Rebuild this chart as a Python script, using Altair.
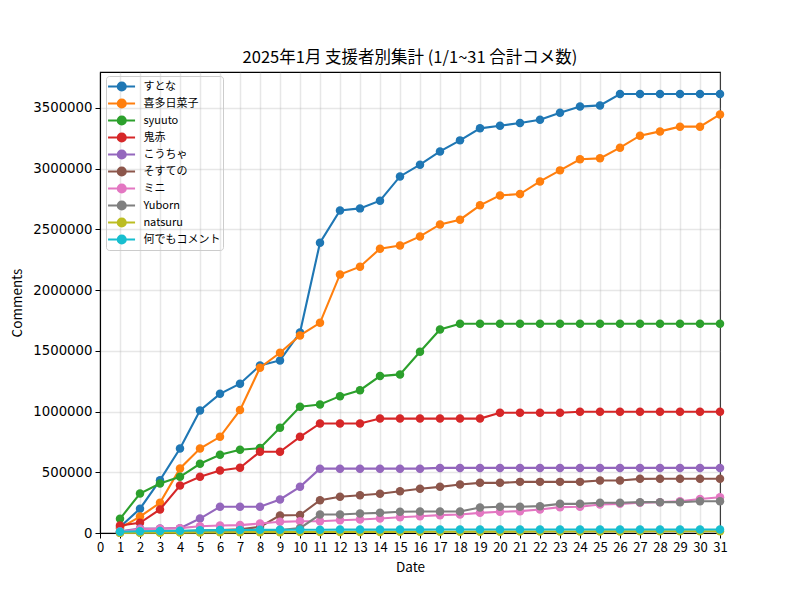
import altair as alt
import pandas as pd

days = list(range(1, 32))
names = ["すとな", "喜多日菜子", "syuuto", "鬼赤", "こうちゃ", "そすての", "ミニ", "Yuborn", "natsuru", "何でもコメント"]
colors = ["#1f77b4", "#ff7f0e", "#2ca02c", "#d62728", "#9467bd", "#8c564b", "#e377c2", "#7f7f7f", "#bcbd22", "#17becf"]

sutona = [50000, 200000, 435000, 696000, 1009000, 1146000, 1229000, 1380000, 1421000, 1651000,
          2390000, 2656000, 2673000, 2736000, 2936000, 3033000, 3142000, 3233000, 3332000, 3354000,
          3376000, 3403000, 3461000, 3511000, 3521000, 3615000, 3615000, 3615000, 3615000, 3615000, 3615000]
kita = [40000, 135000, 249000, 531000, 696000, 792000, 1012000, 1361000, 1484000, 1627000,
        1731000, 2129000, 2193000, 2341000, 2368000, 2442000, 2541000, 2580000, 2698000, 2780000,
        2791000, 2895000, 2986000, 3077000, 3085000, 3173000, 3272000, 3307000, 3346000, 3346000, 3447000]
syuuto = [117000, 325000, 408000, 463000, 570000, 644000, 685000, 699000, 866000, 1039000,
          1058000, 1127000, 1176000, 1292000, 1306000, 1492000, 1676000, 1723000, 1723000, 1723000,
          1723000, 1723000, 1723000, 1723000, 1723000, 1723000, 1723000, 1723000, 1723000, 1723000, 1723000]
oniaka = [62000, 84000, 194000, 391000, 463000, 515000, 537000, 669000, 669000, 792000,
          902000, 902000, 902000, 942000, 942000, 942000, 942000, 942000, 942000, 990000,
          990000, 990000, 990000, 998000, 998000, 998000, 998000, 998000, 998000, 998000, 998000]
koucha = [15000, 37000, 37000, 40000, 119000, 216000, 216000, 216000, 276000, 380000,
          530000, 530000, 530000, 530000, 530000, 530000, 536000, 536000, 536000, 536000,
          536000, 536000, 536000, 536000, 536000, 536000, 536000, 536000, 536000, 536000, 536000]
sosuteno = [5000, 10000, 12000, 15000, 20000, 25000, 30000, 50000, 145000, 148000,
            270000, 298000, 311000, 323000, 344000, 364000, 380000, 399000, 413000, 413000,
            421000, 421000, 421000, 421000, 432000, 432000, 446000, 447000, 447000, 447000, 447000]
mini = [10000, 30000, 35000, 40000, 56000, 62000, 65000, 78000, 92000, 97000,
        97000, 105000, 111000, 119000, 130000, 138000, 147000, 152000, 166000, 175000,
        180000, 194000, 213000, 216000, 235000, 240000, 249000, 254000, 262000, 280000, 295000]
yuborn = [2000, 5000, 8000, 10000, 12000, 15000, 18000, 20000, 25000, 40000,
          152000, 152000, 160000, 166000, 175000, 177000, 177000, 177000, 210000, 216000,
          216000, 221000, 240000, 240000, 249000, 249000, 254000, 254000, 254000, 262000, 262000]
natsuru = [1000, 2000, 3000, 3500, 5000, 5500, 6000, 7000, 7000, 8000,
           8000, 8500, 9000, 9000, 9500, 10000, 10000, 10500, 11000, 11000,
           11500, 12000, 12000, 12500, 13000, 13000, 13500, 14000, 14000, 14500, 15000]
nandemo = [10000, 14000, 16000, 18000, 22000, 24000, 25000, 26000, 27000, 27000,
           27000, 28000, 28000, 28000, 28000, 28000, 29000, 29000, 29000, 29000,
           29000, 29000, 29000, 29000, 29000, 29000, 29000, 29000, 29000, 29000, 29000]

series_values = [sutona, kita, syuuto, oniaka, koucha, sosuteno, mini, yuborn, natsuru, nandemo]
x_ticks = list(range(0, 32))
y_ticks = [0, 500000, 1000000, 1500000, 2000000, 2500000, 3000000, 3500000]

rows = []
for n, vals in zip(names, series_values):
    for d, v in zip(days, vals):
        rows.append({"Date": d, "Comments": v, "name": n})
df = pd.DataFrame(rows)

FONT = "Noto Sans CJK JP"

x_enc = alt.X("Date:Q",
              scale=alt.Scale(domain=[0, 31], nice=False, zero=False),
              axis=alt.Axis(values=x_ticks, title="Date", format="d", labelFlush=False,
                            labelFont=FONT, labelFontSize=13))
y_enc = alt.Y("Comments:Q",
              scale=alt.Scale(domain=[0, 3796000], nice=False),
              axis=alt.Axis(values=y_ticks, title="Comments", format="d",
                            labelFont="DejaVu Sans", labelFontSize=13.3))

# legend glyph: a line with a filled dot drawn as concentric rings
LEGEND_PATH = ("M-1.142,0L2.507,0 "
               "M1.250,0A0.541,0.541 0 1,0 0.168,0A0.541,0.541 0 1,0 1.250,0 "
               "M1.047,0A0.338,0.338 0 1,0 0.371,0A0.338,0.338 0 1,0 1.047,0 "
               "M0.844,0A0.135,0.135 0 1,0 0.574,0A0.135,0.135 0 1,0 0.844,0")

legend = alt.Legend(orient="none", legendX=6, legendY=4, padding=2, symbolSize=219,
                    labelOffset=18.4, rowPadding=0, labelFontSize=11, labelFont=FONT,
                    title=None, labelColor="#000000", symbolType=LEGEND_PATH,
                    symbolStrokeWidth=2.1, strokeColor="#cccccc", cornerRadius=3)

color_scale = alt.Scale(domain=names, range=colors)

layers = []
for i, n in enumerate(names):
    base = alt.Chart(df).transform_filter(alt.datum.name == n)
    line = base.mark_line(strokeWidth=2.1).encode(
        x=x_enc, y=y_enc,
        color=alt.Color("name:N", scale=color_scale, legend=legend),
        order=alt.Order("Date:Q"),
    )
    pts = base.mark_circle(size=72, opacity=1).encode(
        x=x_enc, y=y_enc,
        color=alt.Color("name:N", scale=color_scale, legend=legend),
    )
    layers += [line, pts]

chart = alt.layer(*layers).properties(
    width=620, height=461,
    title=alt.TitleParams("2025年1月 支援者別集計 (1/1~31 合計コメ数)", font=FONT,
                          fontSize=16.5, fontWeight="normal", color="#000000",
                          anchor="middle", offset=6),
    padding={"left": 100, "top": 72, "right": 80, "bottom": 67},
    autosize=alt.AutoSizeParams(type="none"),
).configure_view(
    stroke="#000000", strokeWidth=1.1
).configure_axis(
    titleFont=FONT, titleFontSize=13.5,
    titleFontWeight="normal", labelColor="#000000", titleColor="#000000",
    domainColor="#000000", domainWidth=1.1, tickColor="#000000", tickSize=5, tickWidth=1,
    labelPadding=3, gridColor="#b0b0b0", gridOpacity=0.3, gridWidth=1.5,
).configure_axisX(
    titlePadding=6,
).configure_axisY(
    titlePadding=8,
)

chart.save("out.html", embed_options={"renderer": "svg", "actions": False})
